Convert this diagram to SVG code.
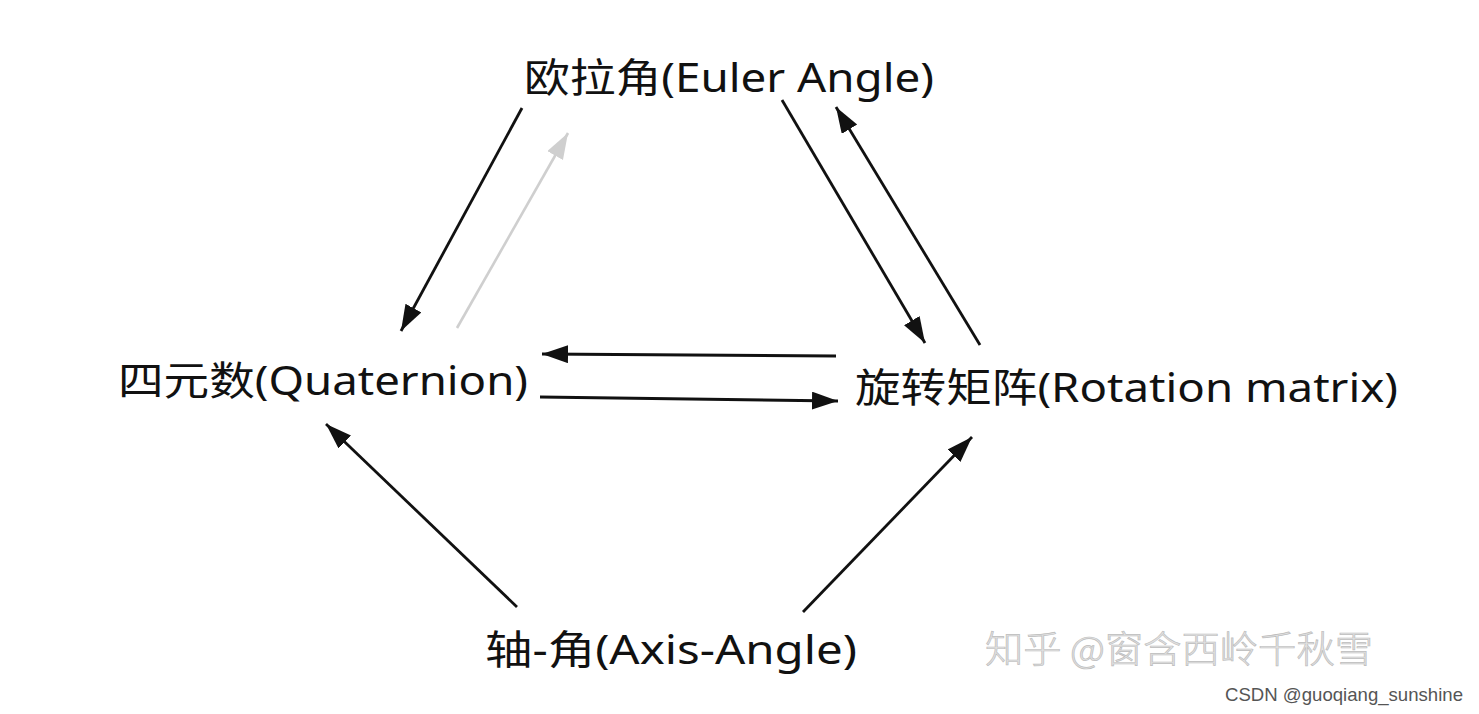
<svg xmlns="http://www.w3.org/2000/svg" width="1479" height="714" viewBox="0 0 1479 714">
<style>
.lbl{font-family:"Noto Sans","Noto Sans CJK SC",sans-serif;font-size:40px;fill:#111}
.wm{font-family:"Noto Sans CJK SC",sans-serif;font-size:37px;font-weight:300;fill:#e2e2e2;stroke:#bdbdbd;stroke-width:0.7}
.csdn{font-family:"Liberation Sans",Arial,sans-serif;font-size:19px;fill:#555}
.arr{stroke:#111;stroke-width:2.8;fill:none;marker-end:url(#ah)}
.arrg{stroke:#cfcfcf;stroke-width:2.6;fill:none;marker-end:url(#ahg)}
</style>
<defs>
<marker id="ah" markerUnits="userSpaceOnUse" markerWidth="28" markerHeight="20" refX="26" refY="9" orient="auto">
<path d="M0,0 L26,9 L0,18 Z" fill="#111"/>
</marker>
<marker id="ahg" markerUnits="userSpaceOnUse" markerWidth="28" markerHeight="20" refX="26" refY="9" orient="auto">
<path d="M0,0 L26,9 L0,18 Z" fill="#cfcfcf"/>
</marker>
</defs>
<rect width="1479" height="714" fill="#fff"/>
<g id="connectors">
<line class="arr" x1="522" y1="108" x2="401" y2="331"/>
<line class="arrg" x1="457" y1="328" x2="568" y2="133"/>
<line class="arr" x1="782" y1="100" x2="925" y2="343"/>
<line class="arr" x1="980" y1="345" x2="836" y2="107"/>
<line class="arr" x1="836" y1="356" x2="542" y2="354"/>
<line class="arr" x1="540" y1="397" x2="838" y2="401"/>
<line class="arr" x1="517" y1="607" x2="326" y2="424"/>
<line class="arr" x1="803" y1="612" x2="972" y2="437"/>
</g>
<g id="euler"><text class="lbl" x="524" y="92" textLength="410" lengthAdjust="spacingAndGlyphs">欧拉角(Euler Angle)</text></g>
<g id="quaternion"><text class="lbl" x="118" y="395" textLength="410" lengthAdjust="spacingAndGlyphs">四元数(Quaternion)</text></g>
<g id="rotation"><text class="lbl" x="855" y="402" textLength="543" lengthAdjust="spacingAndGlyphs">旋转矩阵(Rotation matrix)</text></g>
<g id="axisangle"><text class="lbl" x="485" y="664" textLength="372" lengthAdjust="spacingAndGlyphs">轴-角(Axis-Angle)</text></g>
<g id="watermark">
<text class="wm" x="985" y="663" textLength="388" lengthAdjust="spacingAndGlyphs">知乎 @窗含西岭千秋雪</text>
<text class="csdn" x="1225" y="701" textLength="238" lengthAdjust="spacingAndGlyphs">CSDN @guoqiang_sunshine</text>
</g>
</svg>
